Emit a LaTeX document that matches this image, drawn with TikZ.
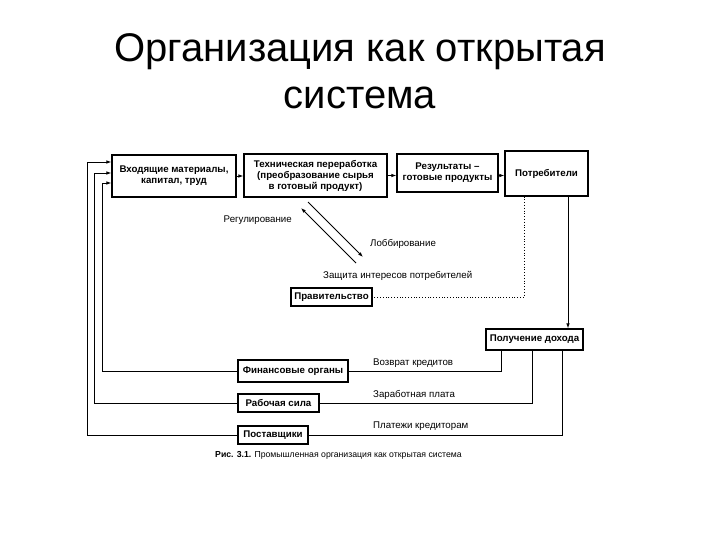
\documentclass[tikz,border=0pt]{standalone}
\usepackage{fontspec}
\setmainfont{Liberation Sans}
\usetikzlibrary{positioning,arrows.meta,calc}

\begin{document}
\begin{tikzpicture}[x=1pt,y=-1pt,
    box/.style={draw, line width=1.1pt, inner sep=1pt, align=center,
      font=\fontsize{9.7}{11}\selectfont\bfseries},
    conn/.style={line width=0.8pt},
    arr/.style={conn, -{Latex[length=5pt,width=3.5pt]}},
    lbl/.style={inner sep=0pt, font=\fontsize{9.7}{11}\selectfont}]
    \useasboundingbox[fill=white] (0,0) rectangle (720,540);
    \node[font=\fontsize{40}{47}\selectfont, align=center] (title) at (360,71) {Организация как открытая\\система};
    \node[box, minimum width=124pt, minimum height=42pt] (inp) at (174,176) {Входящие материалы,\\капитал, труд};
    \node[box, minimum width=143pt, minimum height=43pt] (tech) at (315.5,175.5) {Техническая переработка\\(преобразование сырья\\в готовый продукт)};
    \node[box, minimum width=101pt, minimum height=38pt] (res) at (447.5,173) {Результаты --\\готовые продукты};
    \node[box, minimum width=83pt, minimum height=45pt] (cons) at (546.5,173.5) {Потребители};
    \node[box, minimum width=81pt, minimum height=18pt] (gov) at (331.5,297) {Правительство};
    \node[box, minimum width=97pt, minimum height=21pt] (inc) at (534.5,339.5) {Получение дохода};
    \node[box, minimum width=110pt, minimum height=22pt] (fin) at (293,371) {Финансовые органы};
    \node[box, minimum width=81pt, minimum height=18pt] (lab) at (278.5,403) {Рабочая сила};
    \node[box, minimum width=70pt, minimum height=18pt] (sup) at (273,435) {Поставщики};
    \coordinate (xc) at (568,0);
    \coordinate (xd) at (524,0);
    \coordinate (xf) at (501,0);
    \coordinate (xl) at (532,0);
    \coordinate (xs) at (562,0);
    \coordinate (lf) at (102,0);
    \coordinate (ll) at (94,0);
    \coordinate (ls) at (87,0);
    \coordinate (in1) at ([yshift=14pt]inp.west);
    \coordinate (in2) at ([yshift=3pt]inp.west);
    \coordinate (in3) at ([yshift=-7pt]inp.west);
    \draw[arr] (inp.east) -- (inp.east -| tech.west);
    \draw[arr] (tech.east) -- (tech.east -| res.west);
    \draw[arr] (tech.east -| res.east) -- (tech.east -| cons.west);
    \draw[arr] (cons.south -| xc) -- (inc.north -| xc);
    \draw[conn, dotted] (cons.south -| xd) |- (gov.east);
    \draw[conn] (fin.east) -| (inc.south -| xf);
    \draw[conn] (lab.east) -| (inc.south -| xl);
    \draw[conn] (sup.east) -| (inc.south -| xs);
    \draw[arr] (fin.west) -| (in3 -| lf) -- (in3);
    \draw[arr] (lab.west) -| (in2 -| ll) -- (in2);
    \draw[arr] (sup.west) -| (in1 -| ls) -- (in1);
    \coordinate (lobA) at (308,202);
    \coordinate (lobB) at (363,257);
    \coordinate (regA) at (356,263);
    \coordinate (regB) at (301,208);
    \draw[arr] (lobA) -- (lobB);
    \draw[arr] (regA) -- (regB);
    \node[lbl, anchor=east] (lreg) at (292,220) {Регулирование};
    \node[lbl, anchor=west] (llob) at (370,244) {Лоббирование};
    \node[lbl, anchor=west] (lprot) at (323,276) {Защита интересов потребителей};
    \node[lbl, anchor=west] (lret) at (373,363) {Возврат кредитов};
    \node[lbl, anchor=west] (lwage) at (373,395) {Заработная плата};
    \node[lbl, anchor=west] (lpay) at (373,426) {Платежи кредиторам};
    \node[lbl, anchor=west, font=\fontsize{8.7}{10}\selectfont] (cap) at (215,455) {\textbf{Рис. 3.1.} Промышленная организация как открытая система};
\end{tikzpicture}
\end{document}
